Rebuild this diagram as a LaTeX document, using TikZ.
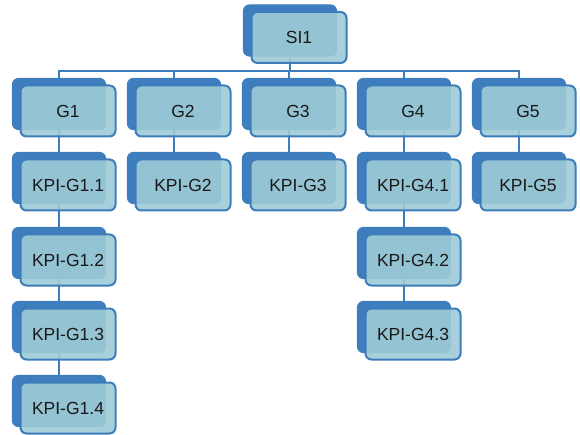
\documentclass[tikz,border=0pt]{standalone}
\usepackage{fontspec}
\setmainfont{Liberation Sans}
\usetikzlibrary{backgrounds}
\definecolor{kpiback}{HTML}{3E7EBE}
\definecolor{kpifront}{HTML}{9ECBD6}
\definecolor{kpiline}{HTML}{3D7DBB}
\tikzset{
  backbox/.style={draw=kpiback, fill=kpiback, line width=1.2pt, rounded corners=6pt,
    minimum width=93pt, minimum height=51pt, inner sep=0pt},
  frontbox/.style={draw=kpiline, fill=kpifront, fill opacity=0.9, text opacity=1,
    line width=2pt, rounded corners=6pt, minimum width=95pt, minimum height=51pt,
    inner sep=0pt, text=black!90, font=\fontsize{17.5}{20}\selectfont},
  link/.style={draw=kpiline, line width=2.2pt}
}
% name, x, y, label
\newcommand\kpinode[4]{%
  \node[backbox] (#1-b) at (#2-9,#3-7) {};
  \node[frontbox] (#1) at (#2,#3) {#4};
}
\begin{document}
\begin{tikzpicture}[x=1pt,y=-1pt]
\useasboundingbox (0,0) rectangle (580,435);
\kpinode{SI1}{299}{37.5}{SI1}
\kpinode{G1}{68}{111}{G1}
\kpinode{G2}{183}{111}{G2}
\kpinode{G3}{298}{111}{G3}
\kpinode{G4}{413}{111}{G4}
\kpinode{G5}{528}{111}{G5}
\kpinode{K11}{68}{185}{KPI-G1.1}
\kpinode{K12}{68}{260}{KPI-G1.2}
\kpinode{K13}{68}{334}{KPI-G1.3}
\kpinode{K14}{68}{408}{KPI-G1.4}
\kpinode{K2}{183}{185}{KPI-G2}
\kpinode{K3}{298}{185}{KPI-G3}
\kpinode{K41}{413}{185}{KPI-G4.1}
\kpinode{K42}{413}{260}{KPI-G4.2}
\kpinode{K43}{413}{334}{KPI-G4.3}
\kpinode{K5}{528}{185}{KPI-G5}
\begin{scope}[on background layer]
\foreach \g in {1,...,5}
  \draw[link] (SI1-b.south) |- ([yshift=6.5pt]G\g-b.north) -- (G\g-b.north);
\draw[link] (G1-b.south) -- (K11-b.north);
\draw[link] (K11-b.south) -- (K12-b.north);
\draw[link] (K12-b.south) -- (K13-b.north);
\draw[link] (K13-b.south) -- (K14-b.north);
\draw[link] (G2-b.south) -- (K2-b.north);
\draw[link] (G3-b.south) -- (K3-b.north);
\draw[link] (G4-b.south) -- (K41-b.north);
\draw[link] (K41-b.south) -- (K42-b.north);
\draw[link] (K42-b.south) -- (K43-b.north);
\draw[link] (G5-b.south) -- (K5-b.north);
\end{scope}
\end{tikzpicture}
\end{document}
